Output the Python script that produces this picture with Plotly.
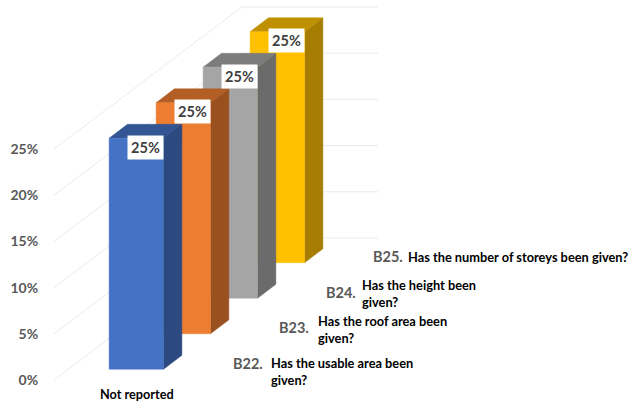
import plotly.graph_objects as go

# Data
category = "Not reported"
series_codes = ["B22.", "B23.", "B24.", "B25."]
series_questions = [
    "Has the usable area been<br>given?",
    "Has the roof area been<br>given?",
    "Has the height been<br>given?",
    "Has the number of storeys been given?",
]
values = [25, 25, 25, 25]
tick_values = [0, 5, 10, 15, 20, 25]
tick_labels = ["0%", "5%", "10%", "15%", "20%", "25%"]

# Styling
front = ["#4472C4", "#ED7D31", "#A5A5A5", "#FFC000"]
top = ["#335593", "#B25E25", "#7C7C7C", "#BF9000"]
side = ["#2C4A7F", "#9A5120", "#6B6B6B", "#A67D00"]
GRID = "#EBEBEB"
W, H = 631, 405
L = 54           # px, left edge of the plot area
PX_PER_PCT = 9.24
ZERO_PX = 380
PX_PER_X = 136   # width of the chart floor in px
DEPTH_DX = 47    # px per series slot
DEPTH_DY = 35.5
BAR_X = (0.3, 0.7)
BAR_D = (0.305, 0.695)
FONT = "Lato"


def proj(x, d, v):
    """Oblique projection of (x, depth, value) to axis coordinates."""
    return x + d * DEPTH_DX / PX_PER_X, v + d * DEPTH_DY / PX_PER_PCT


def face(points, color, line=None):
    pts = [proj(*p) for p in points]
    return go.Scatter(
        x=[p[0] for p in pts] + [pts[0][0]],
        y=[p[1] for p in pts] + [pts[0][1]],
        mode="lines", fill="toself", fillcolor=color,
        line=dict(color=line or color, width=1 if line else 0.5),
        hoverinfo="skip", showlegend=False,
    )


fig = go.Figure()

# Walls: side wall and back wall gridlines
n_depth = len(values)
for t in tick_values:
    pts = [proj(0, 0, t), proj(0, n_depth, t), proj(1, n_depth, t)]
    fig.add_trace(go.Scatter(
        x=[p[0] for p in pts], y=[p[1] for p in pts], mode="lines",
        line=dict(color=GRID, width=1), hoverinfo="skip", showlegend=False))

# Bars, back to front
for i in reversed(range(len(values))):
    v = values[i]
    x0, x1 = BAR_X
    d0, d1 = i + BAR_D[0], i + BAR_D[1]
    fig.add_trace(face([(x1, d0, 0), (x1, d1, 0), (x1, d1, v), (x1, d0, v)], side[i]))
    fig.add_trace(face([(x0, d0, v), (x1, d0, v), (x1, d1, v), (x0, d1, v)], top[i]))
    fig.add_trace(face([(x0, d0, 0), (x1, d0, 0), (x1, d0, v), (x0, d0, v)], front[i]))

annotations = []

# Data labels
for i, v in enumerate(values):
    ax, ay = proj(BAR_X[1], i + BAR_D[0], v)
    annotations.append(dict(
        x=ax, y=ay, xref="x", yref="y", text=f"{v}%", showarrow=False,
        xanchor="right", yanchor="top", xshift=0, yshift=3.5,
        width=35, height=23, bgcolor="#FFFFFF", align="center", valign="middle",
        font=dict(family=FONT, size=14.5, color="#404040", weight=700),
        borderpad=0,
    ))

# Category label
cx, _ = proj(0.5, BAR_D[0], 0)
annotations.append(dict(
    x=cx, y=(ZERO_PX - 394) / PX_PER_PCT, xref="x", yref="y", text=category,
    showarrow=False, xanchor="center", yanchor="middle", xshift=1,
    font=dict(family=FONT, size=12.7, color="#000000", weight=700),
))

# Series (depth axis) labels
code_xshift = [17.5, 16.5, 16.5, 16]
q_xshift = [55, 55, 52.5, 51.5]
q_yshift = [-8.5, -2, -1.5, 0]
for i, (code, q) in enumerate(zip(series_codes, series_questions)):
    ax, ay = proj(1, i + 0.5, 0)
    annotations.append(dict(
        x=ax, y=ay, xref="x", yref="y", text=code, showarrow=False,
        xanchor="left", yanchor="middle", xshift=code_xshift[i], yshift=-1,
        font=dict(family=FONT, size=14.5, color="#595959", weight=700),
    ))
    annotations.append(dict(
        x=ax, y=ay, xref="x", yref="y", text=q, showarrow=False, align="left",
        xanchor="left", yanchor="middle", xshift=q_xshift[i], yshift=-1 + q_yshift[i],
        font=dict(family=FONT, size=12.8, color="#000000", weight=700),
    ))

fig.update_layout(
    width=W, height=H, margin=dict(l=L, r=0, t=0, b=0),
    paper_bgcolor="#FFFFFF", plot_bgcolor="#FFFFFF", showlegend=False,
    xaxis=dict(range=[0, (W - L) / PX_PER_X], visible=False, fixedrange=True),
    yaxis=dict(
        range=[(ZERO_PX - H) / PX_PER_PCT, ZERO_PX / PX_PER_PCT],
        tickmode="array", tickvals=tick_values, ticktext=tick_labels,
        showgrid=False, zeroline=False, showline=False,
        ticks="outside", ticklen=12, tickcolor="rgba(0,0,0,0)", fixedrange=True,
        tickfont=dict(family=FONT, size=14, color="#595959", weight=700),
    ),
    annotations=annotations,
)

fig.write_html("out.html", config={"displayModeBar": False},
               post_script="document.body.style.margin='0';")
